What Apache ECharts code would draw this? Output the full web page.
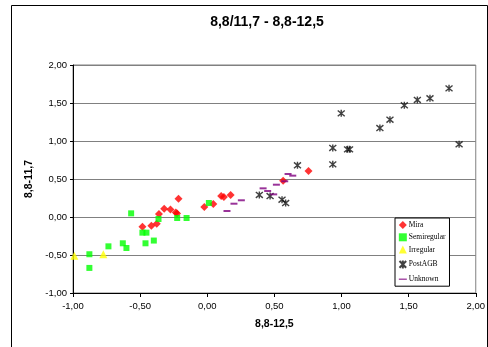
<!DOCTYPE html>
<html>
<head>
<meta charset="utf-8">
<script src="https://cdn.jsdelivr.net/npm/echarts@6/dist/echarts.min.js"></script>
<style>
  html, body { margin: 0; padding: 0; background: #fff; }
  #chart { width: 488px; height: 347px; }
</style>
</head>
<body>
<div id="chart"></div>
<script>
// values, [x = 8,8-12,5 , y = 8,8-11,7]
const mira = [
    [-0.483, -0.127], [-0.416, -0.114], [-0.376, -0.088], [-0.36, 0.04],
    [-0.321, 0.11], [-0.274, 0.10], [-0.234, 0.06], [-0.225, 0.045],
    [-0.214, 0.24], [-0.022, 0.132], [0.045, 0.17], [0.104, 0.276],
    [0.124, 0.263], [0.174, 0.29], [0.565, 0.478], [0.754, 0.605]
];
const semiregular = [
    [-0.878, -0.49], [-0.878, -0.67], [-0.736, -0.386], [-0.629, -0.346],
    [-0.602, -0.408], [-0.567, 0.048], [-0.483, -0.206], [-0.453, -0.206],
    [-0.46, -0.346], [-0.398, -0.31], [-0.363, -0.026], [-0.224, -0.013],
    [-0.154, -0.013], [0.012, 0.184]
];
const irregular = [[-0.99, -0.51], [-0.774, -0.49]];
const postAGB = [
    [0.388, 0.29], [0.468, 0.276], [0.557, 0.228], [0.584, 0.184],
    [0.672, 0.68], [0.935, 0.908], [0.935, 0.693], [0.998, 1.364],
    [1.045, 0.89], [1.06, 0.89], [1.286, 1.171], [1.361, 1.28],
    [1.468, 1.47], [1.565, 1.54], [1.659, 1.562], [1.801, 1.693],
    [1.876, 0.957]
];
const unknown = [
    [0.147, 0.079], [0.199, 0.175], [0.254, 0.22], [0.416, 0.377],
    [0.45, 0.342], [0.495, 0.298], [0.515, 0.425], [0.577, 0.47],
    [0.602, 0.566], [0.637, 0.544]
];
const seriesNames = ['Mira', 'Semiregular', 'Irregular', 'PostAGB', 'Unknown'];

const fmt = v => v.toFixed(2).replace('.', ',');
const starPath = 'path://M0,0L10,10M10,0L0,10M5,-1L5,11';
const dashIcon = 'path://M0,0L0,0M0,4.2L10,4.2L10,5.8L0,5.8ZM10,10L10,10';

const chart = echarts.init(document.getElementById('chart'));

const option = {
    animation: false,
    backgroundColor: '#fff',
    title: {
        text: '8,8/11,7 - 8,8-12,5',
        left: 262,
        textAlign: 'center',
        top: 10,
        textStyle: { fontFamily: 'Liberation Sans', fontSize: 14, fontWeight: 'bold', color: '#000' }
    },
    graphic: [{
        type: 'rect',
        shape: { x: 11.5, y: 5.5, width: 476, height: 360 },
        style: { fill: 'none', stroke: '#000', lineWidth: 1 },
        silent: true
    }],
    legend: {
        orient: 'vertical',
        left: 395,
        top: 218,
        width: 58,
        padding: [3, 4, 3, 2],
        itemGap: 4.3,
        itemWidth: 8,
        itemHeight: 8,
        backgroundColor: '#fff',
        borderColor: '#000',
        borderWidth: 1,
        borderRadius: 0,
        textStyle: { fontFamily: 'Liberation Serif', fontSize: 7.5, color: '#000', padding: [0, 0, 0, -3] },
        data: [
            { name: 'Mira' },
            { name: 'Semiregular' },
            { name: 'Irregular' },
            { name: 'PostAGB' },
            { name: 'Unknown', icon: dashIcon }
        ]
    },
    grid: {
        left: 73,
        right: 12,
        top: 65,
        bottom: 54,
        show: true,
        borderColor: '#808080',
        borderWidth: 1
    },
    xAxis: {
        type: 'value',
        min: -1,
        max: 2,
        interval: 0.5,
        name: '8,8-12,5',
        nameLocation: 'middle',
        nameGap: 26,
        nameTextStyle: { fontFamily: 'Liberation Sans', fontSize: 10.5, fontWeight: 'bold', color: '#000' },
        axisLine: { onZero: false, lineStyle: { color: '#000', width: 1 } },
        axisTick: { show: true, length: 4, lineStyle: { color: '#000' } },
        axisLabel: { formatter: fmt, fontFamily: 'Liberation Sans', fontSize: 9.5, color: '#000', margin: 8 },
        splitLine: { show: false }
    },
    yAxis: {
        type: 'value',
        min: -1,
        max: 2,
        interval: 0.5,
        name: '8,8-11,7',
        nameLocation: 'middle',
        nameRotate: 90,
        nameGap: 36,
        nameTextStyle: { fontFamily: 'Liberation Sans', fontSize: 10.5, fontWeight: 'bold', color: '#000' },
        axisLine: { onZero: false, lineStyle: { color: '#000', width: 1 } },
        axisTick: { show: true, length: 3, lineStyle: { color: '#000' } },
        axisLabel: { formatter: fmt, fontFamily: 'Liberation Sans', fontSize: 9.5, color: '#000', margin: 6 },
        splitLine: { show: true, lineStyle: { color: '#808080', width: 1 } }
    },
    series: [
        {
            name: seriesNames[0], type: 'scatter', data: mira,
            symbol: 'diamond', symbolSize: 8,
            itemStyle: { color: '#FF0000' }
        },
        {
            name: seriesNames[1], type: 'scatter', data: semiregular,
            symbol: 'rect', symbolSize: 6,
            itemStyle: { color: '#00FF00' }
        },
        {
            name: seriesNames[2], type: 'scatter', data: irregular,
            symbol: 'triangle', symbolSize: 8,
            itemStyle: { color: '#FFFF00' }
        },
        {
            name: seriesNames[3], type: 'scatter', data: postAGB,
            symbol: starPath, symbolSize: 7,
            itemStyle: { color: 'none', borderColor: '#111', borderWidth: 1.4 }
        },
        {
            name: seriesNames[4], type: 'scatter', data: unknown,
            symbol: 'rect', symbolSize: [7, 2],
            itemStyle: { color: '#800080' }
        }
    ]
};

chart.setOption(option);
</script>
</body>
</html>
